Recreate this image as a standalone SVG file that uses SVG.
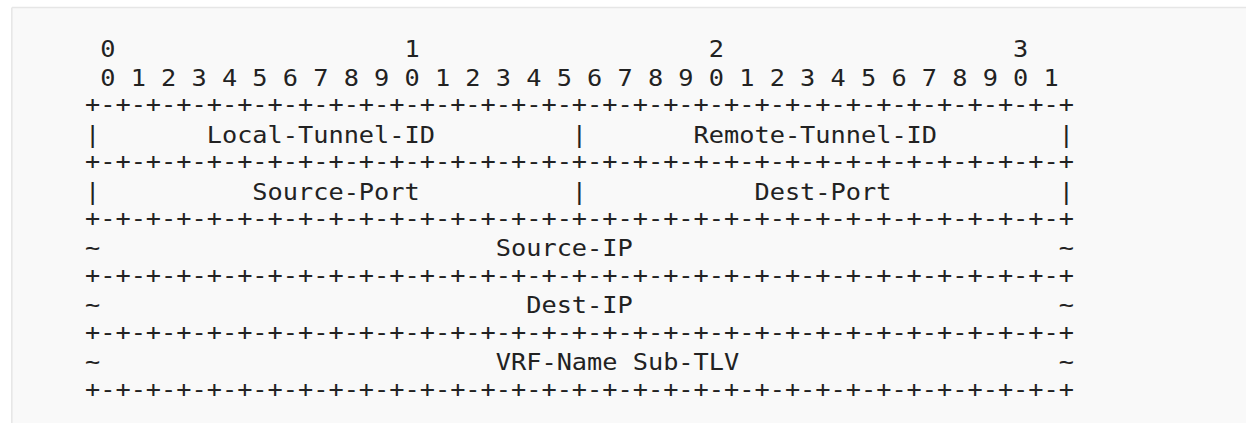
<svg xmlns="http://www.w3.org/2000/svg" width="1246" height="423" viewBox="0 0 1246 423">
  <style>
    .t { font-family: "DejaVu Sans Mono", "Liberation Mono", monospace; font-size: 22.5px; fill: #222; white-space: pre; }
  </style>
  <rect x="0" y="0" width="1246" height="423" fill="#ffffff"/>
  <g id="background">
    <rect x="12" y="7.5" width="1234" height="416" fill="#f9f9f9"/>
    <line x1="12" y1="7.5" x2="1246" y2="7.5" stroke="#e6e6e6" stroke-width="1.5"/>
    <line x1="11.8" y1="7.5" x2="11.8" y2="423" stroke="#e6e6e6" stroke-width="1.5"/>
  </g>
  <g transform="translate(85,0) scale(1.1236,1)">
    <g id="ruler">
      <text class="t" x="0" y="57.5" xml:space="preserve"> 0                   1                   2                   3</text>
      <text class="t" x="0" y="86" xml:space="preserve"> 0 1 2 3 4 5 6 7 8 9 0 1 2 3 4 5 6 7 8 9 0 1 2 3 4 5 6 7 8 9 0 1</text>
    </g>
    <g id="row-tunnel-id">
      <text class="t" x="0" y="112.5" xml:space="preserve">+-+-+-+-+-+-+-+-+-+-+-+-+-+-+-+-+-+-+-+-+-+-+-+-+-+-+-+-+-+-+-+-+</text>
      <text class="t" x="0" y="143" xml:space="preserve">|       Local-Tunnel-ID         |       Remote-Tunnel-ID        |</text>
    </g>
    <g id="row-port">
      <text class="t" x="0" y="169.5" xml:space="preserve">+-+-+-+-+-+-+-+-+-+-+-+-+-+-+-+-+-+-+-+-+-+-+-+-+-+-+-+-+-+-+-+-+</text>
      <text class="t" x="0" y="200" xml:space="preserve">|          Source-Port          |           Dest-Port           |</text>
    </g>
    <g id="row-source-ip">
      <text class="t" x="0" y="226.5" xml:space="preserve">+-+-+-+-+-+-+-+-+-+-+-+-+-+-+-+-+-+-+-+-+-+-+-+-+-+-+-+-+-+-+-+-+</text>
      <text class="t" x="0" y="256" xml:space="preserve">~                          Source-IP                            ~</text>
    </g>
    <g id="row-dest-ip">
      <text class="t" x="0" y="283.5" xml:space="preserve">+-+-+-+-+-+-+-+-+-+-+-+-+-+-+-+-+-+-+-+-+-+-+-+-+-+-+-+-+-+-+-+-+</text>
      <text class="t" x="0" y="313" xml:space="preserve">~                            Dest-IP                            ~</text>
    </g>
    <g id="row-vrf">
      <text class="t" x="0" y="340.5" xml:space="preserve">+-+-+-+-+-+-+-+-+-+-+-+-+-+-+-+-+-+-+-+-+-+-+-+-+-+-+-+-+-+-+-+-+</text>
      <text class="t" x="0" y="370" xml:space="preserve">~                          VRF-Name Sub-TLV                     ~</text>
      <text class="t" x="0" y="397.5" xml:space="preserve">+-+-+-+-+-+-+-+-+-+-+-+-+-+-+-+-+-+-+-+-+-+-+-+-+-+-+-+-+-+-+-+-+</text>
    </g>
  </g>
</svg>
